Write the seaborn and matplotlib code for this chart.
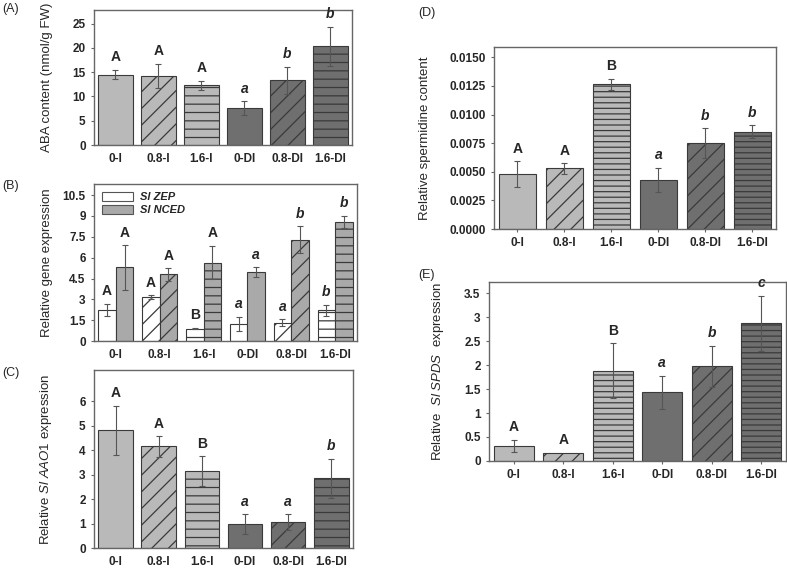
import numpy as np
import pandas as pd
import matplotlib
matplotlib.use('Agg')
import matplotlib.pyplot as plt
import seaborn as sns
from matplotlib.patches import Patch

# ---------------- data ----------------
treatments = ['0-I', '0.8-I', '1.6-I', '0-DI', '0.8-DI', '1.6-DI']

aba_mean = [14.5, 14.2, 12.3, 7.6, 13.3, 20.3]
aba_err = [1.0, 2.5, 0.9, 1.4, 2.8, 4.1]
aba_letters = ['A', 'A', 'A', 'a', 'b', 'b']

genes = ['Sl ZEP', 'Sl NCED']
zep_mean = [2.25, 3.15, 0.9, 1.25, 1.3, 2.2]
zep_err = [0.45, 0.15, 0.05, 0.5, 0.25, 0.4]
zep_letters = ['A', 'A', 'B', 'a', 'a', 'b']
nced_mean = [5.3, 4.8, 5.65, 4.95, 7.3, 8.55]
nced_err = [1.6, 0.45, 1.2, 0.35, 0.95, 0.45]
nced_letters = ['A', 'A', 'A', 'a', 'b', 'b']

aao_mean = [4.8, 4.15, 3.15, 0.97, 1.05, 2.85]
aao_err = [1.0, 0.42, 0.6, 0.4, 0.33, 0.8]
aao_letters = ['A', 'A', 'B', 'a', 'a', 'b']

spd_mean = [0.0048, 0.0053, 0.01265, 0.0043, 0.0075, 0.0085]
spd_err = [0.0011, 0.00045, 0.0005, 0.00105, 0.0013, 0.00055]
spd_letters = ['A', 'A', 'B', 'a', 'b', 'b']

spds_mean = [0.31, 0.17, 1.88, 1.43, 1.97, 2.87]
spds_err = [0.13, 0.0, 0.57, 0.35, 0.43, 0.57]
spds_letters = ['A', 'A', 'B', 'a', 'b', 'c']

# ---------------- style ----------------
sns.set_style('ticks')
plt.rcParams['font.family'] = ['Liberation Sans', 'DejaVu Sans']
plt.rcParams['mathtext.fontset'] = 'custom'
plt.rcParams['mathtext.rm'] = 'Liberation Sans'
plt.rcParams['mathtext.it'] = 'Liberation Sans:italic'
plt.rcParams['hatch.linewidth'] = 0.9

LIGHT = '#b9b9b9'
DARK = '#6f6f6f'
EDGE = '#3a3a3a'
SPINE = '#666666'
bar_colors = [LIGHT, LIGHT, LIGHT, DARK, DARK, DARK]
gene_colors = ['#ffffff', '#a9a9a9']

fig = plt.figure(figsize=(7.87, 5.68), dpi=100)
axA = fig.add_axes([0.1194, 0.7447, 0.3278, 0.2377])
axB = fig.add_axes([0.1194, 0.3996, 0.3342, 0.2764])
axC = fig.add_axes([0.1194, 0.0352, 0.3290, 0.3134])
axD = fig.add_axes([0.6277, 0.5968, 0.3583, 0.3204])
axE = fig.add_axes([0.6213, 0.1884, 0.3774, 0.3151])


def style_axis(ax, ylim, yticks, ylabel, fmt, label_x, xtick_len=0):
    ax.set_xlim(-0.5, 5.5)
    ax.set_ylim(*ylim)
    ax.set_yticks(yticks)
    ax.set_yticklabels([fmt(v) for v in yticks])
    for s in ax.spines.values():
        s.set_visible(True)
        s.set_color(SPINE)
        s.set_linewidth(1.0)
    ax.tick_params(axis='y', length=2.5, width=0.8, color=SPINE, labelsize=8.5, pad=3.5)
    ax.tick_params(axis='x', length=xtick_len, width=0.8, color=SPINE,
                   labelsize=8.5, pad=6 - xtick_len)
    for t in ax.get_xticklabels() + ax.get_yticklabels():
        t.set_fontweight('bold')
    ax.set_xlabel('')
    ax.set_ylabel(ylabel, fontsize=9.5)
    ax.yaxis.set_label_coords(label_x, 0.5)


def annotate(ax, xc, top, letter, size=10):
    ax.annotate(letter, (xc, top), xytext=(0, 4), textcoords='offset points',
                ha='center', va='bottom', fontsize=size, fontweight='bold',
                fontstyle='italic' if letter.islower() else 'normal')


def draw_single(ax, means, errs, letters, hatches):
    df = pd.DataFrame({'Treatment': treatments, 'Value': means})
    sns.barplot(data=df, x='Treatment', y='Value', hue='Treatment',
                order=treatments, hue_order=treatments, palette=bar_colors,
                saturation=1, width=0.8, errorbar=None, legend=False,
                edgecolor=EDGE, linewidth=0.8, ax=ax)
    patches = sorted([p for p in ax.patches], key=lambda p: p.get_x())
    for p, h, m, e, l in zip(patches, hatches, means, errs, letters):
        p.set_hatch(h)
        xc = p.get_x() + p.get_width() / 2
        if e > 0:
            ax.errorbar(xc, m, yerr=e, fmt='none', ecolor='#555555',
                        elinewidth=0.8, capsize=2.2, capthick=0.8)
        annotate(ax, xc, m + e, l)


hatch_a = ['', '//', '--', '', '//', '--']
hatch_d = ['', '//', '---', '', '//', '---']

# (A)
draw_single(axA, aba_mean, aba_err, aba_letters, hatch_a)
style_axis(axA, (0, 27.8), [0, 5, 10, 15, 20, 25], 'ABA content (nmol/g FW)',
           lambda v: f'{v:g}', -0.159)

# (B)
dfB = pd.DataFrame({
    'Treatment': treatments * 2,
    'Gene': [genes[0]] * 6 + [genes[1]] * 6,
    'Value': zep_mean + nced_mean,
})
sns.barplot(data=dfB, x='Treatment', y='Value', hue='Gene', order=treatments,
            hue_order=genes, palette=gene_colors, saturation=1, width=0.8,
            errorbar=None, legend=False, edgecolor=EDGE, linewidth=0.8, ax=axB)
pB = sorted([p for p in axB.patches], key=lambda p: p.get_x())
b_means = [v for pair in zip(zep_mean, nced_mean) for v in pair]
b_errs = [v for pair in zip(zep_err, nced_err) for v in pair]
b_letters = [v for pair in zip(zep_letters, nced_letters) for v in pair]
b_hatch = [h for h in hatch_a for _ in range(2)]
for p, h, m, e, l in zip(pB, b_hatch, b_means, b_errs, b_letters):
    p.set_hatch(h)
    xc = p.get_x() + p.get_width() / 2
    axB.errorbar(xc, m, yerr=e, fmt='none', ecolor='#555555',
                 elinewidth=0.8, capsize=2.2, capthick=0.8)
    annotate(axB, xc, m + e, l)
handles = [Patch(facecolor=c, edgecolor='#555555', linewidth=0.8) for c in gene_colors]
leg = axB.legend(handles, genes, loc='upper left', frameon=False,
                 handlelength=2.8, handleheight=0.9, handletextpad=0.6,
                 labelspacing=0.25, borderaxespad=0.3,
                 prop={'weight': 'bold', 'style': 'italic', 'size': 8})
style_axis(axB, (0, 11.3), [0, 1.5, 3, 4.5, 6, 7.5, 9, 10.5],
           'Relative gene expression', lambda v: f'{v:g}', -0.156)

# (C)
draw_single(axC, aao_mean, aao_err, aao_letters, hatch_a)
style_axis(axC, (0, 7.27), [0, 1, 2, 3, 4, 5, 6],
           r'Relative $\it{Sl\ AAO1}$ expression', lambda v: f'{v:g}', -0.154)

# (D)
draw_single(axD, spd_mean, spd_err, spd_letters, hatch_d)
style_axis(axD, (0, 0.0159), [0, 0.0025, 0.005, 0.0075, 0.01, 0.0125, 0.015],
           'Relative spermidine content', lambda v: f'{v:.4f}', -0.223, 2.5)

# (E)
draw_single(axE, spds_mean, spds_err, spds_letters, hatch_d)
style_axis(axE, (0, 3.73), [0, 0.5, 1, 1.5, 2, 2.5, 3, 3.5],
           r'Relative  $\it{Sl\ SPDS}$  expression', lambda v: f'{v:g}', -0.145, 2.5)

# panel labels
for lab, x, y in [('(A)', 0.003, 0.985), ('(B)', 0.003, 0.672),
                  ('(C)', 0.003, 0.343), ('(D)', 0.531, 0.977),
                  ('(E)', 0.531, 0.516)]:
    fig.text(x, y, lab, fontsize=9, ha='left', va='center')

fig.savefig('out.png', dpi=100)
